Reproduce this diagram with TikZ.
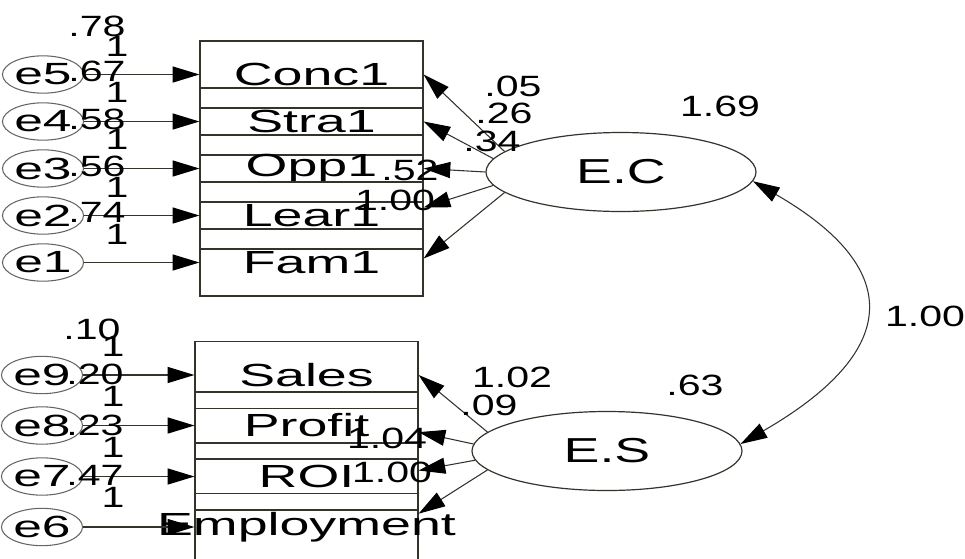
\documentclass[tikz,border=0pt]{standalone}
\usepackage{fontspec}
\setmainfont{Liberation Sans}
\newfontfamily\namefont[FakeStretch=1.68]{Liberation Sans}
\newfontfamily\numfont[FakeStretch=1.4]{Liberation Sans}
\newfontfamily\latfont[FakeStretch=1.55]{Liberation Sans}
\usetikzlibrary{arrows.meta,shapes.geometric}
\definecolor{frame}{RGB}{52,50,42}

\begin{document}
\begin{tikzpicture}[x=0.75pt,y=-0.75pt,
    obs/.style={rectangle,draw=frame,line width=0.9pt,minimum width=167.25pt,minimum height=50.25pt,inner sep=0pt,font=\namefont\fontsize{24}{28}\selectfont},
    err/.style={ellipse,draw=frame!75,line width=0.8pt,minimum width=44pt,minimum height=28pt,inner sep=0pt,font=\namefont\fontsize{23}{27}\selectfont},
    lat/.style={ellipse,draw=frame,line width=0.9pt,minimum width=202.5pt,minimum height=59.25pt,inner sep=0pt,font=\latfont\fontsize{26}{30}\selectfont},
    val/.style={inner sep=0pt,font=\numfont\fontsize{22}{26}\selectfont},
    reg/.style={-{Triangle[length=20pt,width=12pt,color=black]},line width=0.8pt,draw=frame},
    cov/.style={{Triangle[length=20pt,width=12pt,color=black]}-{Triangle[length=20pt,width=12pt,color=black]},line width=0.8pt,draw=frame}]
    \clip (0,0) rectangle (965,558);
    % Observed variables
    \node (conc) at (311.5,74.5) [obs] {Conc1};
    \node (stra) at (311.5,121.5) [obs] {Stra1};
    \node (opp) at (311.5,168.5) [obs] {Opp1};
    \node (lear) at (311.5,215.5) [obs] {Lear1};
    \node (fam) at (311.5,262.5) [obs] {Fam1};
    \node (sales) at (306.5,375) [obs] {Sales};
    \node (profit) at (306.5,425.5) [obs] {Profit};
    \node (roi) at (306.5,476.5) [obs] {ROI};
    \node (empl) at (306.5,527) [obs] {\makebox[0pt]{Employment}};
    % Error terms
    \node (e5) at (43,74.5) [err] {e5};
    \node (e4) at (43,121.5) [err] {e4};
    \node (e3) at (43,168.5) [err] {e3};
    \node (e2) at (43,215.5) [err] {e2};
    \node (e1) at (43,262.5) [err] {e1};
    \node (e9) at (42,375) [err] {e9};
    \node (e8) at (42,425.5) [err] {e8};
    \node (e7) at (42,476.5) [err] {e7};
    \node (e6) at (42,527) [err] {e6};
    % Latent variables
    \node (EC) at (621,172) [lat] {E.C};
    \node (ES) at (607,451) [lat] {E.S};
    % Error paths
    \path (e5) edge[reg] (conc.west);
    \path (e4) edge[reg] (stra.west);
    \path (e3) edge[reg] (opp.west);
    \path (e2) edge[reg] (lear.west);
    \path (e1) edge[reg] (fam.west);
    \path (e9) edge[reg] (sales.west);
    \path (e8) edge[reg] (profit.west);
    \path (e7) edge[reg] (roi.west);
    \path (e6) edge[reg] (empl.west);
    % Loadings
    \path (EC.170) edge[reg] (conc.east);
    \path (EC.174) edge[reg] (stra.east);
    \path (EC.180) edge[reg] (opp.east);
    \path (EC.186) edge[reg] ([yshift=6pt]lear.east);
    \path (EC.190) edge[reg] ([yshift=3pt]fam.east);
    \path (ES.171) edge[reg] (sales.east);
    \path (ES.177) edge[reg] ([yshift=-5pt]profit.east);
    \path (ES.184) edge[reg] ([yshift=4.5pt]roi.east);
    \path (ES.189) edge[reg] ([yshift=10pt]empl.east);
    % Covariance
    \path (EC.-4) edge[cov,out=-30,in=30,looseness=1.75] (ES.3);
    % Estimates, top block
    \node (v78) at (97,26) [val] {.78};
    \node (w5) at (117,46) [val] {1};
    \node (v67) at (97,71) [val] {.67};
    \node (w4) at (117,92) [val] {1};
    \node (v58) at (97,119) [val] {.58};
    \node (w3) at (117,139) [val] {1};
    \node (v56) at (97,166) [val] {.56};
    \node (w2) at (117,187) [val] {1};
    \node (v74) at (97,212) [val] {.74};
    \node (w1) at (117,234) [val] {1};
    \node (l05) at (513,86) [val] {.05};
    \node (l26) at (504,113) [val] {.26};
    \node (l34) at (492,141) [val] {.34};
    \node (l52) at (410,170) [val] {.52};
    \node (l100a) at (395,200) [val] {1.00};
    \node (v169) at (720,106) [val] {1.69};
    % Estimates, bottom block
    \node (v10) at (92,329) [val] {.10};
    \node (w9) at (113,346) [val] {1};
    \node (v20) at (95,374) [val] {.20};
    \node (w8) at (113,396) [val] {1};
    \node (v23) at (95,425) [val] {.23};
    \node (w7) at (113,447) [val] {1};
    \node (v47) at (95,475) [val] {.47};
    \node (w6) at (113,497) [val] {1};
    \node (l102) at (512,377) [val] {1.02};
    \node (l09) at (489,405) [val] {.09};
    \node (l104) at (387,438) [val] {1.04};
    \node (l100b) at (392,472) [val] {1.00};
    \node (v63) at (695,385) [val] {.63};
    \node (c100) at (925,316) [val] {1.00};
\end{tikzpicture}
\end{document}
